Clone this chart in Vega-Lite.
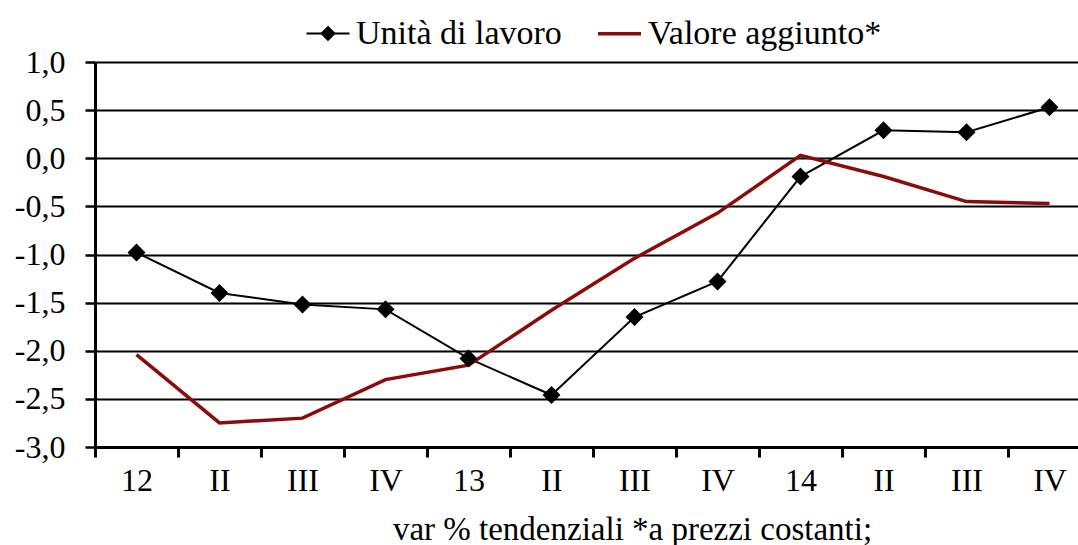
{
  "$schema": "https://vega.github.io/schema/vega-lite/v6.json",
  "width": 983,
  "height": 385,
  "autosize": {"type": "none"},
  "padding": {"left": 95, "top": 62, "right": 0, "bottom": 98},
  "background": "white",
  "config": {
    "view": {"stroke": null},
    "font": "Liberation Serif"
  },
  "data": {
    "values": [
      {"q": "12", "series": "Unità di lavoro", "v": -0.98},
      {"q": "II_12", "series": "Unità di lavoro", "v": -1.40},
      {"q": "III_12", "series": "Unità di lavoro", "v": -1.52},
      {"q": "IV_12", "series": "Unità di lavoro", "v": -1.57},
      {"q": "13", "series": "Unità di lavoro", "v": -2.08},
      {"q": "II_13", "series": "Unità di lavoro", "v": -2.46},
      {"q": "III_13", "series": "Unità di lavoro", "v": -1.65},
      {"q": "IV_13", "series": "Unità di lavoro", "v": -1.28},
      {"q": "14", "series": "Unità di lavoro", "v": -0.19},
      {"q": "II_14", "series": "Unità di lavoro", "v": 0.29},
      {"q": "III_14", "series": "Unità di lavoro", "v": 0.27},
      {"q": "IV_14", "series": "Unità di lavoro", "v": 0.53},
      {"q": "12", "series": "Valore aggiunto*", "v": -2.04},
      {"q": "II_12", "series": "Valore aggiunto*", "v": -2.75},
      {"q": "III_12", "series": "Valore aggiunto*", "v": -2.70},
      {"q": "IV_12", "series": "Valore aggiunto*", "v": -2.30},
      {"q": "13", "series": "Valore aggiunto*", "v": -2.15},
      {"q": "II_13", "series": "Valore aggiunto*", "v": -1.58},
      {"q": "III_13", "series": "Valore aggiunto*", "v": -1.04},
      {"q": "IV_13", "series": "Valore aggiunto*", "v": -0.57},
      {"q": "14", "series": "Valore aggiunto*", "v": 0.03},
      {"q": "II_14", "series": "Valore aggiunto*", "v": -0.19},
      {"q": "III_14", "series": "Valore aggiunto*", "v": -0.45},
      {"q": "IV_14", "series": "Valore aggiunto*", "v": -0.47}
    ]
  },
  "encoding": {
    "x": {
      "field": "q",
      "type": "ordinal",
      "sort": null,
      "scale": {"type": "band", "paddingInner": 0, "paddingOuter": 0, "range": [0, 996]},
      "axis": {
        "title": "var % tendenziali  *a prezzi costanti;",
        "titleFont": "Liberation Serif",
        "titleFontSize": 33,
        "titleFontWeight": "normal",
        "titleColor": "black",
        "titleX": 537,
        "titleY": 92,
        "titleBaseline": "alphabetic",
        "titleAnchor": "middle",
        "labelExpr": "isValid(datum.value) ? split(datum.value, '_')[0] : ''",
        "labelFont": "Liberation Serif",
        "labelFontSize": 32,
        "labelColor": "black",
        "labelAngle": 0,
        "labelPadding": 8,
        "labelBaseline": "top",
        "tickBand": "extent",
        "tickSize": 10,
        "tickWidth": 3,
        "tickColor": "black",
        "domainColor": "black",
        "domainWidth": 3,
        "grid": false
      }
    },
    "y": {
      "field": "v",
      "type": "quantitative",
      "scale": {"domain": [-3, 1], "nice": false, "zero": false},
      "axis": {
        "title": null,
        "values": [-3, -2.5, -2, -1.5, -1, -0.5, 0, 0.5, 1],
        "labelExpr": "(datum.value < 0 ? '-' : '') + replace(format(abs(datum.value), '.1f'), '.', ',')",
        "labelFont": "Liberation Serif",
        "labelFontSize": 32,
        "labelColor": "black",
        "labelPadding": 20,
        "grid": true,
        "gridColor": "black",
        "gridWidth": 2,
        "gridOpacity": 1,
        "tickSize": 10,
        "tickWidth": 2.5,
        "tickColor": "black",
        "domainColor": "black",
        "domainWidth": 3
      }
    },
    "color": {
      "field": "series",
      "type": "nominal",
      "scale": {"domain": ["Unità di lavoro", "Valore aggiunto*"], "range": ["#000000", "#8B0a0a"]}
    }
  },
  "layer": [
    {
      "mark": {"type": "line"},
      "encoding": {
        "strokeWidth": {
          "field": "series",
          "type": "nominal",
          "scale": {"domain": ["Unità di lavoro", "Valore aggiunto*"], "range": [2, 3.5]},
          "legend": null
        }
      }
    },
    {
      "mark": {"type": "point", "filled": true, "opacity": 1, "size": 3600},
      "encoding": {
        "shape": {
          "field": "series",
          "type": "nominal",
          "scale": {
            "domain": ["Unità di lavoro", "Valore aggiunto*"],
            "range": ["M-1,0H1M0,-0.3L0.3,0L0,0.3L-0.3,0Z", "M-1,0H1"]
          },
          "legend": {
            "title": null,
            "orient": "none",
            "legendX": 210,
            "legendY": -52,
            "direction": "horizontal",
            "labelFont": "Liberation Serif",
            "labelFontSize": 34,
            "labelColor": "black",
            "labelLimit": 400,
            "labelOffset": 5,
            "columnPadding": 28,
            "symbolSize": 1850,
            "encode": {
              "symbols": {
                "update": {
                  "shape": {"scale": "shape", "field": "value"},
                  "fill": {"scale": "color", "field": "value"},
                  "stroke": {"scale": "color", "field": "value"},
                  "strokeWidth": {"signal": "datum.value === 'Valore aggiunto*' ? 4 : 2"},
                  "size": {"value": 1850},
                  "opacity": {"value": 1}
                }
              }
            }
          }
        },
        "color": {
          "field": "series",
          "type": "nominal",
          "legend": {
            "title": null,
            "orient": "none",
            "legendX": 210,
            "legendY": -52,
            "direction": "horizontal",
            "labelFont": "Liberation Serif",
            "labelFontSize": 34,
            "labelColor": "black",
            "labelLimit": 400,
            "labelOffset": 5,
            "columnPadding": 28,
            "symbolSize": 1850,
            "encode": {
              "symbols": {
                "update": {
                  "shape": {"scale": "shape", "field": "value"},
                  "fill": {"scale": "color", "field": "value"},
                  "stroke": {"scale": "color", "field": "value"},
                  "strokeWidth": {"signal": "datum.value === 'Valore aggiunto*' ? 4 : 2"},
                  "size": {"value": 1850},
                  "opacity": {"value": 1}
                }
              }
            }
          }
        }
      }
    }
  ]
}
